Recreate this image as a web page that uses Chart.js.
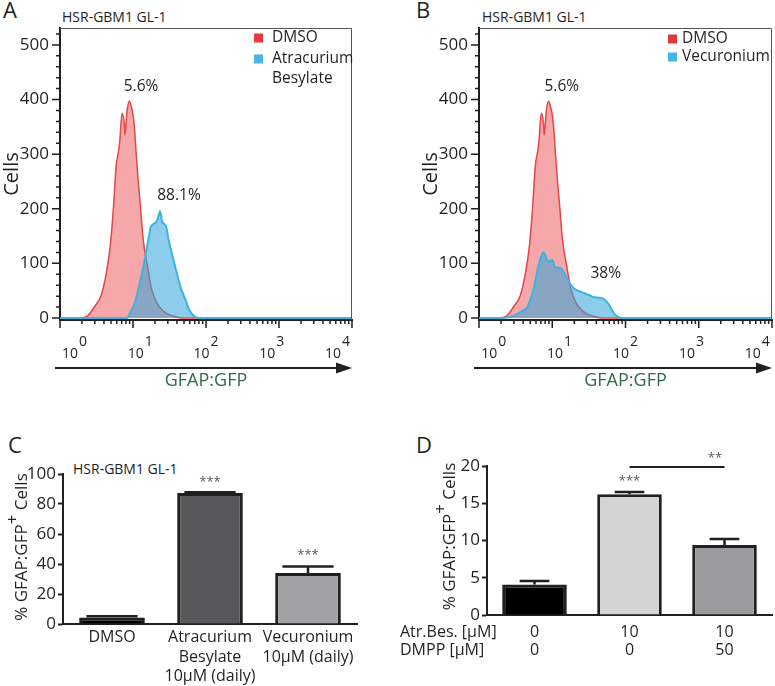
<!DOCTYPE html>
<html>
<head>
<meta charset="utf-8">
<script src="https://cdn.jsdelivr.net/npm/chart.js@4.4.1/dist/chart.umd.min.js"></script>
<style>
  body { margin: 0; background: #fff; width: 775px; height: 686px; position: relative; overflow: hidden; font-family: 'Open Sans', sans-serif; color: #231f20; }
  canvas, .txt { position: absolute; }
  .txt { line-height: 1; white-space: nowrap; }
  .letter { font-size: 22px; }
  .sub { font-size: 14px; }
</style>
</head>
<body>
<div class="txt letter" style="left:3px;top:-2px">A</div>
<div class="txt letter" style="left:416px;top:-2px">B</div>
<div class="txt letter" style="left:8px;top:433px">C</div>
<div class="txt letter" style="left:416px;top:433px">D</div>
<div class="txt sub" style="left:62px;top:10px">HSR-GBM1 GL-1</div>
<div class="txt sub" style="left:482px;top:10px">HSR-GBM1 GL-1</div>
<div class="txt sub" style="left:73px;top:462px">HSR-GBM1 GL-1</div>

<canvas id="histA" width="380" height="395" style="left:0;top:0"></canvas>
<canvas id="histB" width="356" height="395" style="left:419px;top:0"></canvas>
<canvas id="barC" width="380" height="246" style="left:0;top:440px"></canvas>
<canvas id="barD" width="385" height="246" style="left:390px;top:440px"></canvas>

<script>
const INK = '#231f20';
const GREEN = '#2e6b4a';

// flow histograms: position on the GFAP:GFP axis in decades (log10) and cell counts
const dmsoLog   = [0, 0.27, 0.38, 0.48, 0.56, 0.63, 0.69, 0.73, 0.77, 0.80, 0.82, 0.85, 0.88, 0.89, 0.92, 0.95, 0.98, 1.00, 1.02, 1.04, 1.07, 1.10, 1.14, 1.20, 1.25, 1.32, 1.41, 1.54, 1.68, 4];
const dmsoCells = [0, 0, 4, 22, 40, 79, 134, 198, 280, 304, 326, 375, 357, 335, 381, 397, 385, 372, 348, 308, 253, 207, 143, 93, 55, 29, 13, 4, 0, 0];
const atrLog    = [0, 0.92, 0.96, 1.02, 1.07, 1.14, 1.21, 1.24, 1.28, 1.32, 1.35, 1.37, 1.40, 1.43, 1.46, 1.48, 1.52, 1.58, 1.65, 1.72, 1.77, 1.85, 1.92, 4];
const atrCells  = [0, 0, 9, 27, 51, 93, 143, 165, 172, 176, 187, 196, 176, 172, 165, 148, 125, 93, 57, 33, 15, 2, 0, 0];
const vecLog    = [0, 0.33, 0.49, 0.59, 0.66, 0.74, 0.80, 0.84, 0.88, 0.92, 0.95, 1.00, 1.04, 1.11, 1.21, 1.29, 1.43, 1.50, 1.57, 1.66, 1.76, 1.84, 1.90, 1.95, 4];
const vecCells  = [0, 0, 5, 13, 20, 51, 88, 110, 121, 110, 103, 106, 93, 92, 70, 55, 46, 42, 38, 37, 27, 9, 2, 0, 0];
const gfpDecades = [0, 1, 2, 3, 4];
const cellTicks = [0, 20, 40, 60, 80, 100, 120, 140, 160, 180, 200, 220, 240, 260, 280, 300, 320, 340, 360, 380, 400, 420, 440, 460, 480, 500, 520];

// panel C
const cLabels = [['DMSO'], ['Atracurium', 'Besylate', '10\u03bcM (daily)'], ['Vecuronium', '10\u03bcM (daily)']];
const cMeans  = [4.4, 87.3, 34.0];
const cSem    = [0.8, 0.6, 4.4];
const cColors = ['#000000', '#58585a', '#a1a1a4'];

// panel D
const dAtrBes = ['0', '10', '10'];
const dDmpp   = ['0', '0', '50'];
const dMeans  = [4.1, 16.2, 9.4];
const dSem    = [0.45, 0.3, 0.8];
const dColors = ['#000000', '#d4d4d4', '#9b9b9e'];

Chart.defaults.font.family = "'Open Sans', sans-serif";
Chart.defaults.color = INK;

// frame, log ticks, 10^n labels, arrow, legend and % notes for the flow plots
const flowDecor = {
  id: 'flowDecor',
  afterDraw(chart, args, opts) {
    const ctx = chart.ctx, a = chart.chartArea, xs = chart.scales.x, ys = chart.scales.y;
    ctx.save();
    ctx.strokeStyle = '#555'; ctx.lineWidth = 1;
    ctx.beginPath();
    ctx.moveTo(a.left, a.top + 0.5); ctx.lineTo(a.right - 0.5, a.top + 0.5); ctx.lineTo(a.right - 0.5, a.bottom);
    ctx.stroke();

    ctx.strokeStyle = INK; ctx.lineWidth = 1.5;
    ctx.beginPath();
    gfpDecades.forEach(n => {
      for (let k = 1; k <= 9; k++) {
        if (n === 4 && k > 1) break;
        const px = xs.getPixelForValue(n + Math.log10(k));
        ctx.moveTo(px, a.bottom); ctx.lineTo(px, a.bottom + (k === 1 ? 8 : 4));
      }
    });
    cellTicks.forEach(v => {
      const py = ys.getPixelForValue(v);
      ctx.moveTo(a.left, py); ctx.lineTo(a.left - (v % 100 === 0 ? 8 : 4), py);
    });
    ctx.stroke();

    // 10^n labels
    ctx.fillStyle = INK; ctx.textBaseline = 'alphabetic'; ctx.textAlign = 'left';
    ctx.font = "14px 'Open Sans', sans-serif";
    const mid = xs.getPixelForValue(2);
    gfpDecades.forEach(n => {
      const cx = mid + (xs.getPixelForValue(n) - mid) * 0.9;
      const w1 = ctx.measureText('10').width, w2 = ctx.measureText(String(n)).width;
      const x0 = cx - (w1 + w2 + 1) / 2;
      ctx.fillText('10', x0, a.bottom + 38);
      ctx.fillText(String(n), x0 + w1 + 1, a.bottom + 26);
    });

    // arrow
    const ay = a.bottom + 48;
    ctx.lineWidth = 2;
    ctx.beginPath(); ctx.moveTo(a.left - 5, ay); ctx.lineTo(a.right - 12, ay); ctx.stroke();
    ctx.beginPath();
    ctx.moveTo(a.right, ay); ctx.lineTo(a.right - 16, ay - 5.5); ctx.lineTo(a.right - 16, ay + 5.5); ctx.closePath(); ctx.fill();

    // legend
    const lg = opts.legend;
    ctx.font = "15.5px 'Open Sans', sans-serif"; ctx.textBaseline = 'middle';
    lg.items.forEach(it => {
      ctx.fillStyle = it.color;
      ctx.fillRect(lg.sx, it.y - 4.5, 9, 9);
      ctx.fillStyle = INK;
      it.lines.forEach((s, j) => ctx.fillText(s, lg.tx, it.y + j * 20));
    });

    // percentages
    ctx.textAlign = 'center';
    opts.notes.forEach(nt => ctx.fillText(nt.text, xs.getPixelForValue(nt.x), ys.getPixelForValue(nt.y)));
    ctx.restore();
  }
};

function histChart(id, series, decor) {
  return new Chart(document.getElementById(id), {
    type: 'line',
    data: {
      datasets: series.map(s => ({
        label: s.label,
        data: s.logs.map((v, i) => ({ x: v, y: s.cells[i] })),
        borderColor: s.line,
        backgroundColor: s.fill,
        borderWidth: s.width,
        fill: 'origin',
        order: s.order,
        pointRadius: 0,
        cubicInterpolationMode: 'monotone'
      }))
    },
    options: {
      responsive: false,
      animation: false,
      layout: { padding: { top: 28, right: decor.padRight, left: 0, bottom: 0 } },
      plugins: { legend: { display: false }, tooltip: { enabled: false }, flowDecor: decor },
      scales: {
        x: {
          type: 'linear', min: 0, max: 4,
          grid: { display: false, drawTicks: false },
          border: { color: INK, width: 2 },
          ticks: { display: false },
          afterFit: s => { s.height = 75; },
          title: { display: true, text: 'GFAP:GFP', color: GREEN, font: { size: 18 }, padding: { top: 3, bottom: 3 } }
        },
        y: {
          min: -3.7, max: 531,
          grid: { display: false, drawTicks: false },
          border: { color: INK, width: 2 },
          afterBuildTicks: s => { s.ticks = cellTicks.map(v => ({ value: v })); },
          ticks: { padding: 11, autoSkip: false, font: { size: 17 }, callback: v => (v % 100 === 0 ? v : '') },
          afterFit: s => { s.width = 60; },
          title: { display: true, text: 'Cells', font: { size: 20 }, padding: 0 }
        }
      }
    },
    plugins: [flowDecor]
  });
}

const dmsoSeries = { label: 'DMSO', logs: dmsoLog, cells: dmsoCells, line: '#e2474b', fill: 'rgba(235,60,65,0.45)', width: 1.5, order: 2 };

histChart('histA', [dmsoSeries,
  { label: 'Atracurium Besylate', logs: atrLog, cells: atrCells, line: '#3ab4e0', fill: 'rgba(47,164,218,0.55)', width: 2, order: 1 }],
  {
    padRight: 28,
    legend: { sx: 254, tx: 272, items: [
      { color: '#e2393f', y: 38, lines: ['DMSO'] },
      { color: '#45b5e3', y: 59, lines: ['Atracurium', 'Besylate'] }] },
    notes: [{ text: '5.6%', x: 1.11, y: 423 }, { text: '88.1%', x: 1.63, y: 225 }]
  });

histChart('histB', [dmsoSeries,
  { label: 'Vecuronium', logs: vecLog, cells: vecCells, line: '#3ab4e0', fill: 'rgba(47,164,218,0.55)', width: 2, order: 1 }],
  {
    padRight: 3,
    legend: { sx: 249, tx: 263, items: [
      { color: '#e2393f', y: 39, lines: ['DMSO'] },
      { color: '#45b5e3', y: 57, lines: ['Vecuronium'] }] },
    notes: [{ text: '5.6%', x: 1.13, y: 423 }, { text: '38%', x: 1.73, y: 82 }]
  });

// error bars, stars, bracket, rotated y title with superscript, row headers
const barDecor = {
  id: 'barDecor',
  afterDraw(chart, args, opts) {
    const ctx = chart.ctx, a = chart.chartArea, xs = chart.scales.x, ys = chart.scales.y;
    ctx.save();
    ctx.strokeStyle = INK; ctx.lineWidth = 2.5;
    chart.getDatasetMeta(0).data.forEach((bar, i) => {
      const top = ys.getPixelForValue(opts.means[i] + opts.errs[i]);
      const half = bar.width * opts.cap;
      ctx.beginPath();
      ctx.moveTo(bar.x, bar.y); ctx.lineTo(bar.x, top);
      ctx.moveTo(bar.x - half, top); ctx.lineTo(bar.x + half, top);
      ctx.stroke();
    });

    ctx.fillStyle = '#58595b'; ctx.textAlign = 'center'; ctx.textBaseline = 'middle';
    ctx.font = "13px 'Open Sans', sans-serif";
    opts.stars.forEach(s => ctx.fillText(s.text, xs.getPixelForValue(s.x), ys.getPixelForValue(s.y)));
    if (opts.bracket) {
      const b = opts.bracket, by = ys.getPixelForValue(b.y);
      ctx.strokeStyle = INK; ctx.lineWidth = 2;
      ctx.beginPath(); ctx.moveTo(xs.getPixelForValue(b.from), by); ctx.lineTo(xs.getPixelForValue(b.to), by); ctx.stroke();
    }

    // y title: % GFAP:GFP(+) Cells
    ctx.fillStyle = INK; ctx.textAlign = 'left'; ctx.textBaseline = 'alphabetic';
    ctx.font = "17px 'Open Sans', sans-serif";
    const p1 = '% GFAP:GFP', p2 = '+', p3 = ' Cells';
    const w1 = ctx.measureText(p1).width, w2 = ctx.measureText(p2).width, w3 = ctx.measureText(p3).width;
    ctx.translate(opts.titleX, (a.top + a.bottom) / 2 + opts.titleShift);
    ctx.rotate(-Math.PI / 2);
    const x0 = -(w1 + w2 + w3) / 2;
    ctx.fillText(p1, x0, 0);
    ctx.fillText(p2, x0 + w1, -9);
    ctx.fillText(p3, x0 + w1 + w2, 0);
    ctx.setTransform(1, 0, 0, 1, 0, 0);

    if (opts.rowHeads) {
      ctx.font = "16px 'Open Sans', sans-serif"; ctx.textBaseline = 'middle';
      opts.rowHeads.forEach((t, j) => ctx.fillText(t, 10, a.bottom + 8 + 9 + j * 18));
    }
    ctx.restore();
  }
};

function barChart(id, labels, means, errs, colors, ax, decor) {
  return new Chart(document.getElementById(id), {
    type: 'bar',
    data: {
      labels: labels,
      datasets: [{ data: means, backgroundColor: colors, borderColor: INK, borderWidth: 3, barPercentage: ax.barPct, categoryPercentage: 1 }]
    },
    options: {
      responsive: false,
      animation: false,
      layout: { padding: { top: ax.padTop, right: ax.padRight, left: 0, bottom: 0 } },
      plugins: { legend: { display: false }, tooltip: { enabled: false }, barDecor: Object.assign({ means: means, errs: errs }, decor) },
      scales: {
        x: {
          grid: { display: false, drawTicks: false },
          border: { color: INK, width: 2 },
          ticks: { font: { size: 16, lineHeight: ax.lineH }, padding: ax.xPad, maxRotation: 0, autoSkip: false },
          afterFit: s => { s.height = ax.xHeight; }
        },
        y: {
          min: 0, max: ax.max,
          grid: { display: true, drawOnChartArea: false, drawTicks: true, tickLength: 5, tickColor: INK, tickWidth: 2 },
          border: { color: INK, width: 2 },
          ticks: { stepSize: ax.step, autoSkip: false, font: { size: 17 }, padding: 2 },
          afterFit: s => { s.width = ax.yWidth; }
        }
      }
    },
    plugins: [barDecor]
  });
}

barChart('barC', cLabels, cMeans, cSem, cColors,
  { max: 100, step: 20, padTop: 34, padRight: 23, xHeight: 62, yWidth: 63, barPct: 0.67, lineH: 1.22, xPad: 4 },
  { cap: 0.39, titleX: 27, titleShift: -2,
    stars: [{ text: '***', x: 1, y: 94.7 }, { text: '***', x: 2, y: 46 }] });

barChart('barD', dAtrBes.map((v, i) => [v, dDmpp[i]]), dMeans, dSem, dColors,
  { max: 20, step: 5, padTop: 26, padRight: 3, xHeight: 71, yWidth: 97, barPct: 0.68, lineH: 1.13, xPad: 8 },
  { cap: 0.23, titleX: 65, titleShift: -4,
    stars: [{ text: '***', x: 1, y: 17.9 }, { text: '**', x: 1.9, y: 21.1 }],
    bracket: { from: 1, to: 2, y: 19.85 },
    rowHeads: ['Atr.Bes. [\u03bcM]', 'DMPP [\u03bcM]'] });
</script>
</body>
</html>
